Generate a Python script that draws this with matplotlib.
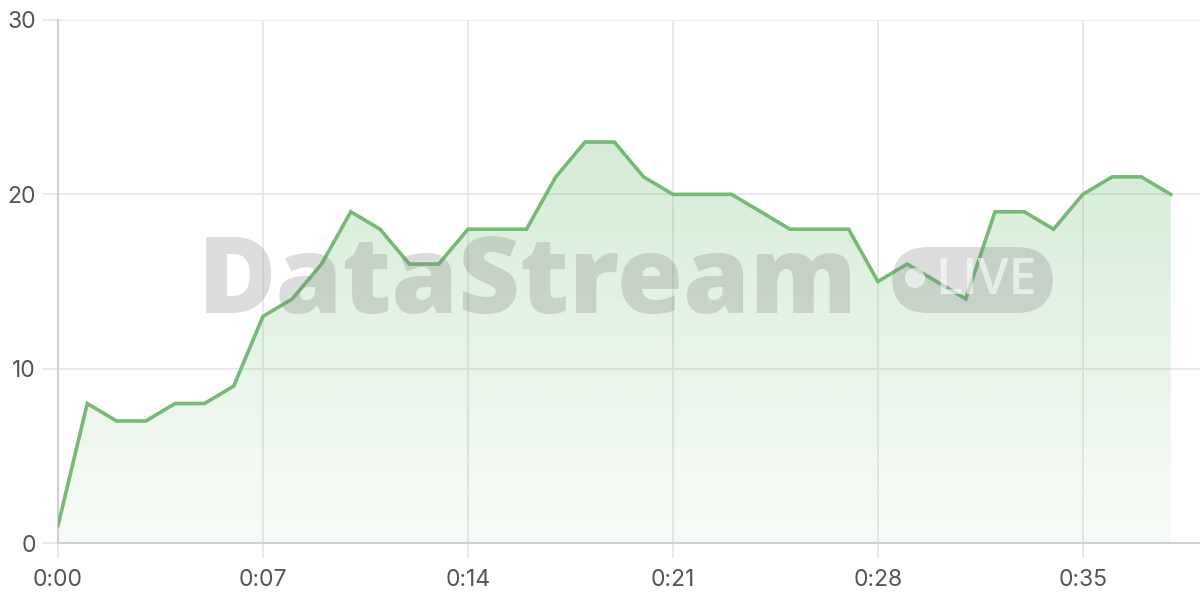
import matplotlib
matplotlib.use("Agg")
import matplotlib.pyplot as plt
import numpy as np
from matplotlib.patches import FancyBboxPatch, Ellipse, Polygon

minutes = list(range(39))
values = [1, 8, 7, 7, 8, 8, 9, 13, 14, 16, 19, 18, 16, 16, 18, 18, 18, 21, 23, 23,
          21, 20, 20, 20, 19, 18, 18, 18, 15, 16, 15, 14, 19, 19, 18, 20, 21, 21, 20]
xtick_pos = [0, 7, 14, 21, 28, 35]
xtick_labels = ["0:00", "0:07", "0:14", "0:21", "0:28", "0:35"]
ytick_pos = [0, 10, 20, 30]

plt.rcParams['font.family'] = ['Inter', 'DejaVu Sans']

fig = plt.figure(figsize=(12, 6), dpi=100)
ax = fig.add_axes([58/1200, 1 - 543/600, 1 - 58/1200, (543 - 20)/600])
ax.set_xlim(0, 39)
ax.set_ylim(0, 30)

grid_c = '#e6e6e6'
ax.set_xticks(xtick_pos)
ax.set_xticklabels(xtick_labels)
ax.set_yticks(ytick_pos)
ax.grid(True, color=grid_c, lw=1.2, zorder=0)
ax.set_axisbelow(True)
for s in ['top', 'right']:
    ax.spines[s].set_visible(False)
for s in ['left', 'bottom']:
    ax.spines[s].set_color('#d0d0d0')
    ax.spines[s].set_linewidth(1.5)
ax.tick_params(axis='both', colors=grid_c, labelcolor='#555555', labelsize=16.5,
               length=11, width=1.2)
ax.tick_params(axis='x', pad=8)
ax.tick_params(axis='y', pad=5)

# gradient fill
x = np.array(minutes, dtype=float)
y = np.array(values, dtype=float)
green = np.array([76, 175, 80]) / 255.0
ymax = y.max()
n = 256
alphas = np.linspace(0.04, 0.24, n)[:, None]
img = np.zeros((n, 1, 4))
img[..., :3] = green
img[..., 3] = alphas
im = ax.imshow(img, extent=[x[0], x[-1], 0, ymax], origin='lower', aspect='auto', zorder=1,
               interpolation='bilinear')
verts = np.vstack([np.column_stack([x, y]), [[x[-1], 0], [x[0], 0]]])
poly = Polygon(verts, closed=True, facecolor='none', edgecolor='none', transform=ax.transData)
ax.add_patch(poly)
im.set_clip_path(poly)

ax.plot(x, y, color='#77b977', lw=2.6, zorder=4, solid_joinstyle='miter')

# watermark
wm_c = (0.5, 0.5, 0.5, 0.27)
fig.text(198/1200, 1 - 313/600, "DataStream", fontsize=77, fontweight='heavy',
         family=['Open Sans', 'DejaVu Sans'], color=wm_c, ha='left', va='baseline', zorder=3)
pill = FancyBboxPatch((892/1200, 1 - 313/600), (1053 - 892)/1200, (313 - 247)/600,
                      boxstyle="round,pad=0,rounding_size=0.03", transform=fig.transFigure,
                      facecolor=wm_c, edgecolor='none', zorder=3, mutation_aspect=2)
fig.add_artist(pill)
dot = Ellipse((915/1200, 1 - 278/600), 20/1200, 20/600, transform=fig.transFigure,
              facecolor=(1, 1, 1, 0.6), edgecolor='none', zorder=3.5)
fig.add_artist(dot)
fig.text(935/1200, 1 - 294/600, "LIVE", fontsize=36, fontweight='semibold',
         family=['Open Sans', 'DejaVu Sans'],
         color=(1, 1, 1, 0.6), ha='left', va='baseline', zorder=3.5)

fig.savefig("out.png", dpi=100)
